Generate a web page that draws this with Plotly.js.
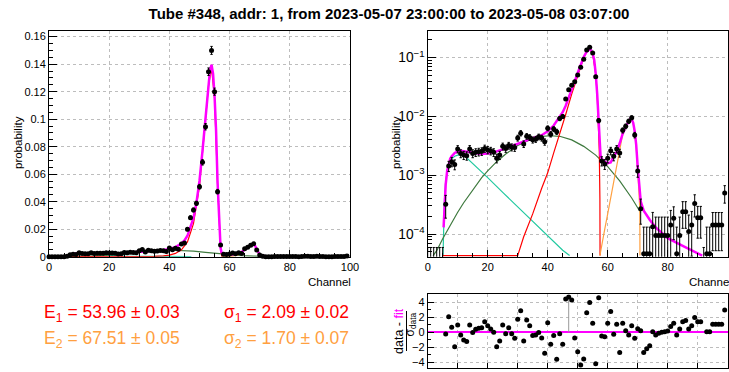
<!DOCTYPE html>
<html>
<head>
<meta charset="utf-8">
<script src="https://cdn.plot.ly/plotly-3.0.1.min.js"></script>
<style>html,body{margin:0;padding:0;background:#fff;}#chart{width:729px;height:372px;}</style>
</head>
<body>
<div id="chart"></div>
<script>
// ---------------- data ----------------
const channels = [0,1,2,3,4,5,6,7,8,9,10,11,12,13,14,15,16,17,18,19,20,21,22,23,24,25,26,27,28,29,30,31,32,33,34,35,36,37,38,39,40,41,42,43,44,45,46,47,48,49,50,51,52,53,54,55,56,57,58,59,60,61,62,63,64,65,66,67,68,69,70,71,72,73,74,75,76,77,78,79,80,81,82,83,84,85,86,87,88,89,90,91,92,93,94,95,96,97,98,99];

const probability = [0,0,0,0,0,0,3.2e-4,1.44e-3,1.70e-3,1.53e-3,
  2.79e-3,2.35e-3,2.20e-3,2.15e-3,2.80e-3,2.35e-3,2.45e-3,2.50e-3,2.55e-3,2.85e-3,
  2.70e-3,2.60e-3,2.45e-3,1.95e-3,2.20e-3,3.10e-3,2.85e-3,3.20e-3,3.00e-3,2.95e-3,
  4.30e-3,5.20e-3,3.40e-3,4.60e-3,4.40e-3,4.00e-3,4.10e-3,4.50e-3,4.30e-3,3.70e-3,
  6.30e-3,5.00e-3,6.10e-3,5.50e-3,9.20e-3,1.00e-2,0.0199,0.0284,0.0340,0.0388,
  0.0509,0.0686,0.0945,0.1345,0.1500,0.1200,0.0473,0.0085,1.75e-3,1.55e-3,
  1.95e-3,2.60e-3,2.10e-3,2.80e-3,2.40e-3,5.80e-3,6.80e-3,8.30e-3,9.50e-3,4.84e-3,
  1.18e-3,2.70e-4,4.6e-5,4.6e-5,4.6e-5,1.33e-4,9.4e-5,9.4e-5,9.4e-5,9.4e-5,
  9.4e-5,1.42e-4,1.85e-4,4.6e-5,9.4e-5,2.4e-4,2.4e-4,1.1e-4,1.42e-4,3.3e-4,
  1.9e-4,1.9e-4,0,4.6e-5,4.6e-5,1.42e-4,1.42e-4,1.42e-4,1.42e-4,5.0e-4];

const probError = [5.9e-5,5.9e-5,5.9e-5,5.9e-5,5.9e-5,5.9e-5,1.34e-4,2.84e-4,3.09e-4,2.93e-4,
  3.95e-4,3.63e-4,3.51e-4,3.47e-4,3.96e-4,3.63e-4,3.70e-4,3.74e-4,3.78e-4,3.99e-4,
  3.89e-4,3.82e-4,3.70e-4,3.30e-4,3.51e-4,4.17e-4,4.00e-4,4.23e-4,4.10e-4,4.06e-4,
  4.90e-4,5.40e-4,4.36e-4,5.08e-4,4.96e-4,4.73e-4,4.79e-4,5.02e-4,4.90e-4,4.55e-4,
  5.94e-4,5.29e-4,5.84e-4,5.55e-4,7.18e-4,7.48e-4,1.06e-3,1.26e-3,1.38e-3,1.47e-3,
  1.69e-3,1.96e-3,2.30e-3,2.74e-3,2.90e-3,2.59e-3,1.63e-3,6.9e-4,3.13e-4,2.95e-4,
  3.30e-4,3.82e-4,3.43e-4,3.96e-4,3.67e-4,5.70e-4,6.17e-4,6.82e-4,7.29e-4,5.20e-4,
  2.57e-4,1.23e-4,8.5e-5,8.5e-5,8.5e-5,1.0e-4,1.0e-4,1.0e-4,1.0e-4,1.0e-4,
  1.0e-4,1.1e-4,1.05e-4,8.5e-5,1.0e-4,1.15e-4,1.15e-4,1.0e-4,1.0e-4,1.35e-4,
  1.05e-4,1.05e-4,5.9e-5,8.5e-5,8.5e-5,9.0e-5,9.0e-5,9.0e-5,9.0e-5,1.65e-4];

const residual = [null,null,null,null,null,null,-0.22,2.09,0.67,-1.91,
  0.98,-0.36,-1.02,-1.24,0.98,-0.04,0.40,0.53,0.62,1.42,
  0.89,0.44,0.00,-1.91,-1.16,0.98,-0.18,0.62,-0.18,-0.80,
  1.73,2.89,-1.16,1.64,0.89,-0.44,-0.36,-0.04,-0.76,-2.80,
  1.29,-1.60,-0.44,-3.60,-0.18,-1.60,4.44,4.70,4.30,-0.75,
  -2.58,-4.36,-3.56,2.62,3.96,1.20,-4.20,4.62,-0.49,-0.58,
  1.20,2.76,-0.27,1.07,-2.70,1.20,0.22,-0.36,0.89,-0.80,
  0.49,0.22,-2.70,-2.20,-1.80,0.09,-0.36,-0.13,0.00,0.09,
  0.18,0.76,1.20,-0.36,0.44,1.42,1.56,0.44,0.89,1.96,
  1.42,1.42,null,0.09,0.09,1.07,1.07,1.07,1.07,2.98];
const residualBarDown = [0,0,0,0,0,0,0,0,0,0,0,0,0,0,0,0,0,0,0,0,0,0,0,0,0,0,0,0,0,0,0,0,0,0,0,0,0,0,0,0,0,0,0,0,0,0,0,4.70,0,0,
  0,0,0,0,0,0,0,0,0,0,0,0,0,0,0,0,0,0,0,0,0,0,0,0,0,0,0,0,0,0,0,0,0,0,0,0,0,0,0,0,0,0,0,0,0,0,0,0,0,0];

// total fit (magenta)
const fitX = [5.3,5.6,6,6.5,7,7.5,8,9,10,11,12,14,16,18,20,22,25,28,30,33,36,38,40,42,44,45,46,47,48,49,50,51,52,53,53.5,54,54.5,55,55.5,56,56.5,57,57.3,57.6,58,59,60,61,62,63,64,65,66,67,67.6,68,68.5,69,69.5,70,70.5,71,72,74,76,80,85,90,91.5];
const fitY = [1.3e-4,3.5e-4,7.0e-4,1.2e-3,1.6e-3,1.9e-3,2.1e-3,2.4e-3,2.55e-3,2.6e-3,2.55e-3,2.45e-3,2.35e-3,2.3e-3,2.35e-3,2.45e-3,2.75e-3,3.15e-3,3.5e-3,4.0e-3,4.45e-3,4.8e-3,5.6e-3,7.0e-3,9.6e-3,0.0118,0.0152,0.0215,0.0282,0.0395,0.0553,0.0771,0.1027,0.1273,0.136,0.1395,0.133,0.117,0.092,0.054,0.024,0.0065,3.2e-3,2.2e-3,1.9e-3,1.7e-3,1.6e-3,1.65e-3,2.1e-3,2.5e-3,3.5e-3,5.1e-3,6.7e-3,8.5e-3,9.2e-3,9.0e-3,7.8e-3,5.6e-3,3.3e-3,1.4e-3,6.5e-4,3.6e-4,2.5e-4,1.75e-4,1.3e-4,8.5e-5,6.3e-5,4.8e-5,4.1e-5];
// main peak component (red)
const peak1X = [5,30,32,35,38,40,42,44,46,48,50,52,53,54,55,56,56.5,57,57.2,57.4,57.45];
const peak1Y = [0,4.1e-5,9e-5,2.2e-4,6e-4,1.1e-3,2.4e-3,5.0e-3,0.0108,0.0240,0.0513,0.0996,0.1245,0.137,0.1155,0.053,0.0235,0.0062,0.0025,4e-4,0];
// second peak component (orange)
const peak2X = [57.4,58,59,60,61,62,63,64,65,66,67,67.6,68,68.5,69,69.5,70,70.5,70.7,70.75];
const peak2Y = [4.1e-5,6e-5,1.2e-4,2.2e-4,4.2e-4,8e-4,1.5e-3,2.9e-3,5.0e-3,6.8e-3,8.2e-3,8.9e-3,8.8e-3,7.6e-3,5.4e-3,3.0e-3,1.2e-3,4.2e-4,2.7e-4,0];
// broad background (dark green)
const broadX = [1.8,3,5,8,10,12,15,18,20,23,26,30,34,38,41,44,48,52,56,60,64,68,71];
const broadY = [4.1e-5,5.2e-5,8.3e-5,1.58e-4,2.35e-4,3.4e-4,5.7e-4,9.1e-4,1.19e-3,1.7e-3,2.3e-3,3.2e-3,4.0e-3,4.6e-3,4.7e-3,4.6e-3,4.0e-3,3.1e-3,2.2e-3,1.4e-3,8.0e-4,4.1e-4,2.3e-4];
// low-energy component (teal)
const lowX = [5.1,5.3,5.6,6,6.5,7,8,9,10,11,12,14,17,20,25,30,35,40,45,47.3];
const lowY = [4.1e-5,1.5e-4,4e-4,8e-4,1.25e-3,1.6e-3,1.9e-3,2.1e-3,2.2e-3,2.25e-3,2.2e-3,1.78e-3,1.26e-3,9.1e-4,5.1e-4,2.9e-4,1.65e-4,9.3e-5,5.3e-5,4.1e-5];

const titleText = 'Tube #348, addr: 1, from 2023-05-07 23:00:00 to 2023-05-08 03:07:00';
const fitLabels = [
  {text:'E<sub>1</sub> = 53.96 ± 0.03', col:0, row:0, color:'#ff0000'},
  {text:'σ<sub>1</sub> = 2.09 ± 0.02', col:1, row:0, color:'#ff0000'},
  {text:'E<sub>2</sub> = 67.51 ± 0.05', col:0, row:1, color:'#ffa040'},
  {text:'σ<sub>2</sub> = 1.70 ± 0.07', col:1, row:1, color:'#ffa040'}
];

// ---------------- drawing ----------------
const W = 729, H = 372;
const FONT = '"Liberation Sans", Arial, Helvetica, sans-serif';
const px = v => v / W;
const py = v => (H - v) / H;
const LOGFLOOR = 4.3e-5;
const floorLog = arr => arr.map(v => (v > LOGFLOOR ? v : LOGFLOOR));
const dataLog = arr => arr.map(v => (v > 0 ? v : 1e-8));

const C = {fit:'#ff00ff', red:'#ff0000', orange:'#ffa040', green:'#3f7a3f', teal:'#22c9a0'};

function curve(x, y, color, width, xa, ya) {
  return {x, y, xaxis:xa, yaxis:ya, type:'scatter', mode:'lines',
          line:{color, width}, hoverinfo:'skip', showlegend:false};
}
function dataTrace(y, xa, ya, clip) {
  return {x:channels, y, xaxis:xa, yaxis:ya, type:'scatter', mode:'markers', cliponaxis:clip,
          marker:{color:'black', size:5},
          error_y:{type:'data', array:probError, visible:true, color:'black', thickness:1, width:1.2},
          hoverinfo:'skip', showlegend:false};
}

const traces = [
  // left: linear
  curve(lowX, lowY, C.teal, 1.2, 'x', 'y'),
  curve(broadX, broadY, C.green, 1.2, 'x', 'y'),
  curve(peak2X, peak2Y, C.orange, 1.2, 'x', 'y'),
  curve(peak1X, peak1Y, C.red, 1.2, 'x', 'y'),
  curve(fitX, fitY, C.fit, 2.5, 'x', 'y'),
  dataTrace(probability, 'x', 'y', false),
  // right: log
  curve(lowX, floorLog(lowY), C.teal, 1.2, 'x2', 'y2'),
  curve(broadX, floorLog(broadY), C.green, 1.2, 'x2', 'y2'),
  curve(peak1X, floorLog(peak1Y), C.red, 1.2, 'x2', 'y2'),
  curve(peak2X, floorLog(peak2Y), C.orange, 1.2, 'x2', 'y2'),
  curve(fitX, floorLog(fitY), C.fit, 2.5, 'x2', 'y2'),
  dataTrace(dataLog(probability), 'x2', 'y2', true),
  // residuals
  {x:channels, y:residual, xaxis:'x3', yaxis:'y3', type:'scatter', mode:'markers',
   marker:{color:'black', size:5},
   error_y:{type:'data', symmetric:false, array:residualBarDown.map(() => 0), arrayminus:residualBarDown,
            color:'#999999', thickness:1, width:0},
   hoverinfo:'skip', showlegend:false}
];

const tickFont = {family:FONT, size:11, color:'black'};
const common = {showline:true, linecolor:'black', linewidth:1, mirror:true, ticks:'inside',
  tickcolor:'black', tickwidth:1, zeroline:false, tickfont:tickFont,
  showgrid:true, gridcolor:'#bdbdbd', griddash:'dot', gridwidth:1, fixedrange:true};

const leftDom = [px(49), px(350)];
const rightDom = [px(427.7), px(727.7)];
const mainDomY = [py(256.7), py(31)];

const layout = {
  width:W, height:H, margin:{l:0, r:0, t:0, b:0},
  paper_bgcolor:'white', plot_bgcolor:'white', showlegend:false,
  font:{family:FONT, color:'black'},
  title:{text:'<b>' + titleText + '</b>', font:{family:FONT, size:15, color:'black'},
         x:px(389), xanchor:'center', y:py(14), yanchor:'middle', yref:'container', xref:'container'},
  xaxis:Object.assign({}, common, {domain:leftDom, anchor:'y', range:[0,100], dtick:20, tick0:0, ticklen:7,
         minor:{ticks:'inside', dtick:5, ticklen:3.5, tickcolor:'black', showgrid:false}}),
  yaxis:Object.assign({}, common, {domain:mainDomY, anchor:'x', range:[0,0.1641], dtick:0.02, tick0:0, ticklen:8,
         minor:{ticks:'inside', dtick:0.005, ticklen:4, tickcolor:'black', showgrid:false}}),
  xaxis2:Object.assign({}, common, {domain:rightDom, anchor:'y2', range:[0,100], dtick:20, tick0:0, ticklen:7,
         minor:{ticks:'inside', dtick:5, ticklen:3.5, tickcolor:'black', showgrid:false}}),
  yaxis2:Object.assign({}, common, {domain:mainDomY, anchor:'x2', type:'log', range:[-4.386,-0.546], dtick:1,
         exponentformat:'power', ticklen:8,
         minor:{ticks:'inside', dtick:'D1', ticklen:4, tickcolor:'black', showgrid:false}}),
  xaxis3:Object.assign({}, common, {domain:rightDom, anchor:'y3', range:[0,100], dtick:10, tick0:0, ticklen:5,
         showticklabels:false}),
  yaxis3:Object.assign({}, common, {domain:[py(368.3), py(294.3)], anchor:'x3', range:[-4.8,5.07], dtick:2, tick0:0,
         ticklen:6, zeroline:true, zerolinecolor:'#ff00ff', zerolinewidth:2.2,
         minor:{ticks:'inside', dtick:1, ticklen:3, tickcolor:'black', showgrid:false}}),
  annotations:[],
  shapes:[
    {type:'line', xref:'paper', yref:'paper', x0:px(406.5), x1:px(406.5), y0:py(351), y1:py(311),
     line:{color:'black', width:1}}
  ]
};

const axisTitleFont = {family:FONT, size:11.5, color:'black'};
layout.annotations.push(
  {text:'Channel', xref:'paper', yref:'paper', x:px(353), y:py(282), xanchor:'right', yanchor:'middle', showarrow:false, font:axisTitleFont},
  {text:'Channel', xref:'paper', yref:'paper', x:px(734), y:py(282), xanchor:'right', yanchor:'middle', showarrow:false, font:axisTitleFont},
  {text:'probability', xref:'paper', yref:'paper', x:px(18), y:py(143), textangle:-90, xanchor:'center', yanchor:'middle', showarrow:false, font:axisTitleFont},
  {text:'probability', xref:'paper', yref:'paper', x:px(396), y:py(143), textangle:-90, xanchor:'center', yanchor:'middle', showarrow:false, font:axisTitleFont},
  {text:'data - <span style="color:#ff00ff">fit</span>', xref:'paper', yref:'paper', x:px(399), y:py(331), textangle:-90,
   xanchor:'center', yanchor:'middle', showarrow:false, font:{family:FONT, size:12.5, color:'black'}},
  {text:'σ<sub>data</sub>', xref:'paper', yref:'paper', x:px(410.5), y:py(325), textangle:-90,
   xanchor:'center', yanchor:'middle', showarrow:false, font:{family:FONT, size:12, color:'black'}}
);
const colX = [42, 222], rowY = [313, 339];
fitLabels.forEach(l => layout.annotations.push({
  text:l.text, xref:'paper', yref:'paper', x:px(colX[l.col]), y:py(rowY[l.row]),
  xanchor:'left', yanchor:'middle', showarrow:false,
  font:{family:FONT, size:17.5, color:l.color}
}));

Plotly.newPlot('chart', traces, layout, {staticPlot:true, displayModeBar:false});
</script>
</body>
</html>
